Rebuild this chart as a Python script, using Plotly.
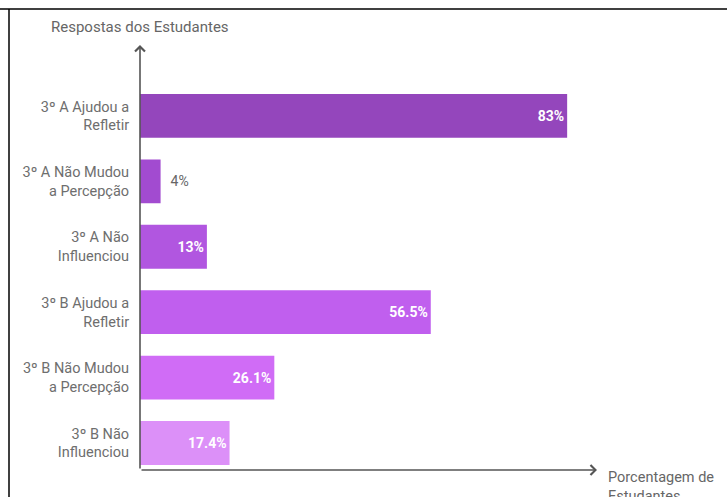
import plotly.graph_objects as go

categories = [
    "3º A Ajudou a<br>Refletir",
    "3º A Não Mudou<br>a Percepção",
    "3º A Não<br>Influenciou",
    "3º B Ajudou a<br>Refletir",
    "3º B Não Mudou<br>a Percepção",
    "3º B Não<br>Influenciou",
]
values = [83, 4, 13, 56.5, 26.1, 17.4]
value_labels = ["83%", "4%", "13%", "56.5%", "26.1%", "17.4%"]
bar_colors = ["#9446BC", "#A24BD0", "#B156E0", "#C05FEE", "#D06CF6", "#DC90F8"]
label_positions = ["inside", "outside", "inside", "inside", "inside", "inside"]
label_colors = ["white", "#666666", "white", "white", "white", "white"]

W, H = 727, 497
L, R, T, B = 140, 130, 45, 27
pw, ph = W - L - R, H - T - B


def px_x(sx):
    return (sx - L) / pw


def px_y(sy):
    return (H - B - sy) / ph


fig = go.Figure(go.Bar(
    y=categories,
    x=values,
    orientation="h",
    marker=dict(color=bar_colors, line=dict(width=0)),
    text=[v if p == "inside" else "  " + v for v, p in zip(value_labels, label_positions)],
    textposition=label_positions,
    insidetextanchor="end",
    textfont=dict(family="Roboto", size=14, color=label_colors),
    insidetextfont=dict(family="Roboto", size=14, color="white", weight="bold"),
    outsidetextfont=dict(family="Roboto", size=14, color="#666666"),
    cliponaxis=False,
    width=0.67,
))

fig.update_layout(
    width=W, height=H,
    margin=dict(l=L, r=R, t=T, b=B),
    paper_bgcolor="white", plot_bgcolor="white",
    showlegend=False,
    font=dict(family="Roboto", size=14.5, color="#6e6e6e"),
)
fig.update_xaxes(range=[0, 88.8], showgrid=False, zeroline=False, showticklabels=False,
                 showline=False, ticks="")
fig.update_yaxes(type="category", range=[5.413, -1.085], showgrid=False, zeroline=False,
                 showline=False, ticks="outside", ticklen=7, tickcolor="rgba(0,0,0,0)",
                 tickfont=dict(family="Roboto", size=14.5, color="#6e6e6e"))

# axis arrows
fig.add_annotation(x=0, y=1, xref="x domain", yref="y domain",
                   ax=0, ay=0, axref="x domain", ayref="y domain",
                   showarrow=True, arrowhead=4, arrowsize=1.2, arrowwidth=1.6,
                   arrowcolor="#555555", text="")
fig.add_annotation(x=1, y=0, xref="x domain", yref="y domain",
                   ax=0, ay=0, axref="x domain", ayref="y domain",
                   showarrow=True, arrowhead=4, arrowsize=1.2, arrowwidth=1.6,
                   arrowcolor="#555555", text="")

# axis titles
fig.add_annotation(x=0, y=px_y(27), xref="x domain", yref="y domain",
                   text="Respostas dos Estudantes", showarrow=False,
                   xanchor="center", yanchor="middle",
                   font=dict(family="Roboto", size=15, color="#666666"))
fig.add_annotation(x=px_x(606), y=px_y(467), xref="x domain", yref="y domain",
                   text="Porcentagem de<br>Estudantes", showarrow=False, align="left",
                   xanchor="left", yanchor="top",
                   font=dict(family="Roboto", size=14.5, color="#666666"))

# document frame lines
fig.add_shape(type="line", xref="paper", yref="paper",
              x0=px_x(0), x1=px_x(727), y0=px_y(9), y1=px_y(9),
              line=dict(color="black", width=1.5))
fig.add_shape(type="line", xref="paper", yref="paper",
              x0=px_x(9), x1=px_x(9), y0=px_y(9), y1=px_y(497),
              line=dict(color="black", width=1.5))

fig.write_html(
    "out.html",
    config={"displayModeBar": False},
    post_script="document.body.style.margin='0';document.body.style.overflow='hidden';",
)
